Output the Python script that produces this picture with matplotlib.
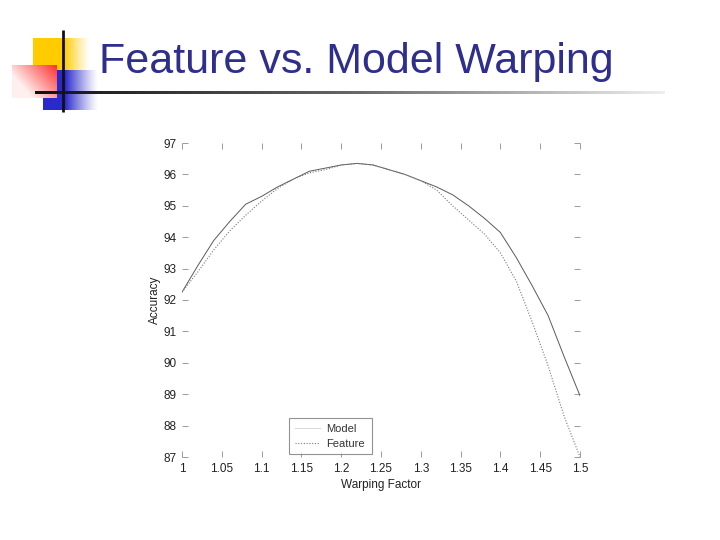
import matplotlib as mpl

mpl.use("Agg")
import matplotlib.pyplot as plt
import numpy as np
from matplotlib.colors import LinearSegmentedColormap

# warping factor and accuracy (%)
warp = [1.00, 1.02, 1.04, 1.06, 1.08, 1.10, 1.12, 1.14, 1.16, 1.18, 1.20, 1.22, 1.24,
        1.26, 1.28, 1.30, 1.32, 1.34, 1.36, 1.38, 1.40, 1.42, 1.44, 1.46, 1.48, 1.50]
model = [92.25, 93.1, 93.9, 94.5, 95.05, 95.3, 95.6, 95.85, 96.1, 96.2, 96.3, 96.35, 96.3,
         96.15, 96.0, 95.8, 95.6, 95.35, 95.0, 94.6, 94.15, 93.35, 92.45, 91.5, 90.2, 88.95]
feature = [92.25, 92.9, 93.6, 94.2, 94.7, 95.15, 95.55, 95.85, 96.05, 96.15, 96.3, 96.35, 96.3,
           96.15, 96.0, 95.8, 95.5, 95.0, 94.55, 94.1, 93.5, 92.6, 91.3, 89.9, 88.3, 87.0]

xticks = [1, 1.05, 1.1, 1.15, 1.2, 1.25, 1.3, 1.35, 1.4, 1.45, 1.5]
xticklabels = ["1", "1.05", "1.1", "1.15", "1.2", "1.25", "1.3", "1.35", "1.4", "1.45", "1.5"]
yticks = list(range(87, 98))

TITLE = "#2E2E8C"
TICK = "#9A9A9A"
TXT = "#222222"

fig = plt.figure(figsize=(7.2, 5.4), dpi=100, facecolor="white")

# slide decoration in pixel coordinates
deco = fig.add_axes([0, 0, 1, 1], zorder=0)
deco.set_xlim(0, 720)
deco.set_ylim(540, 0)
deco.axis("off")


def fade(x0, x1, y0, y1, color, solid_frac, z):
    """Rectangle in color that fades to white from solid_frac of its width."""
    t = np.linspace(0, 1, 200)
    a = np.clip((1 - t) / (1 - solid_frac), 0, 1) ** 1.2
    rgb = np.array(mpl.colors.to_rgb(color))
    img = a[None, :, None] * rgb + (1 - a[None, :, None])
    deco.imshow(np.repeat(img, 2, axis=0), extent=[x0, x1, y1, y0], aspect="auto",
                zorder=z, interpolation="bilinear")


fade(33, 90, 38, 70, "#FFCC00", 0.55, 1)
fade(43, 98, 70, 110, "#2A2ACC", 0.4, 2)

# red square: strong red at top-right, washed out toward left/bottom
xx, yy = np.meshgrid(np.linspace(0, 1, 120), np.linspace(0, 1, 120))
w = np.clip(0.15 + 0.75 * xx - 0.5 * yy, 0, 1)
red = np.array(mpl.colors.to_rgb("#FF1A1A"))
img = w[..., None] * red + (1 - w[..., None]) * np.array([1.0, 0.94, 0.94])
deco.imshow(img, extent=[12, 57, 98, 65], aspect="auto", zorder=3, interpolation="bilinear")

# horizontal rule fading to the right, vertical rule
gcm = LinearSegmentedColormap.from_list("rule", ["#111111", "#666666", "#EEEEEE"])
deco.imshow(np.linspace(0, 1, 300)[None, :], cmap=gcm, extent=[35, 665, 94.2, 91.8],
            aspect="auto", zorder=4)
deco.plot([63, 63], [30, 112], color="#111111", lw=2, zorder=5, solid_capstyle="butt")

deco.text(99, 62, "Feature vs. Model Warping", color=TITLE, fontsize=31,
          family="Liberation Sans", va="center", ha="left", zorder=6)

# chart
ax = fig.add_axes([182 / 720, 83 / 540, 398 / 720, 314 / 540], zorder=2)
ax.patch.set_alpha(0)
ax.plot(warp, model, color="#5A5A5A", lw=0.7, ls="-", label="Model")
ax.plot(warp, feature, color="#7A7A7A", lw=0.8, ls=(0, (1, 1.5)), label="Feature")
ax.set_xlim(1, 1.5)
ax.set_ylim(87, 97)
ax.set_xticks(xticks)
ax.set_xticklabels(xticklabels)
ax.set_yticks(yticks)
for sp in ax.spines.values():
    sp.set_visible(False)
ax.tick_params(direction="in", length=4, width=0.7, color=TICK, labelsize=8.5,
               labelcolor=TXT, top=True, right=True, pad=4)
for lab in ax.get_xticklabels() + ax.get_yticklabels():
    lab.set_family("Liberation Sans")
ax.set_xlabel("Warping Factor", fontsize=8.5, family="Liberation Sans", color=TXT, labelpad=3)
ax.set_ylabel("Accuracy", fontsize=8.5, family="Liberation Sans", color=TXT, labelpad=2)

leg = ax.legend(loc="upper left", bbox_to_anchor=(0.269, 0.124, 0.208, 0.0), mode="expand",
                frameon=True, fancybox=False, prop={"family": "Liberation Sans", "size": 8},
                handlelength=2.3, handletextpad=0.5, borderpad=0.5, labelspacing=0.45,
                borderaxespad=0)
leg.get_frame().set_edgecolor("#777777")
leg.get_frame().set_linewidth(0.8)
leg.get_lines()[0].set_color("#D8D8D8")
for t in leg.get_texts():
    t.set_color("#333333")

fig.savefig("out.png", dpi=100, facecolor="white")
